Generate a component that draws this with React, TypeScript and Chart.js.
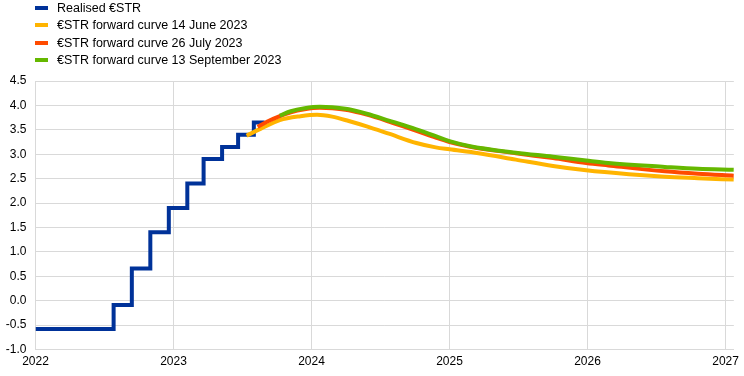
import React, { useEffect, useRef } from "react";
import { Chart, registerables } from "chart.js";

Chart.register(...registerables);

// Realised €STR (step changes, decimal years)
const realisedX = [2022.0, 2022.566, 2022.698, 2022.832, 2022.966, 2023.1, 2023.218, 2023.352, 2023.468, 2023.582, 2023.66];
const realisedY = [-0.58, -0.09, 0.66, 1.4, 1.9, 2.4, 2.9, 3.15, 3.4, 3.65, 3.65];

// €STR forward curve 14 June 2023
const juneX = [2023.53, 2023.63, 2023.77, 2023.92, 2024.04, 2024.15, 2024.27, 2024.4, 2024.56, 2024.76, 2024.9, 2025.0, 2025.21, 2025.48, 2025.75, 2025.99, 2026.3, 2026.56, 2026.8, 2027.06];
const juneY = [3.38, 3.52, 3.7, 3.78, 3.81, 3.77, 3.68, 3.57, 3.42, 3.23, 3.14, 3.1, 3.02, 2.89, 2.76, 2.67, 2.59, 2.54, 2.51, 2.48];

// €STR forward curve 26 July 2023
const julyX = [2023.61, 2023.68, 2023.77, 2023.85, 2023.95, 2024.06, 2024.15, 2024.27, 2024.4, 2024.56, 2024.76, 2024.9, 2025.0, 2025.14, 2025.48, 2025.75, 2025.99, 2026.15, 2026.56, 2026.8, 2027.06];
const julyY = [3.56, 3.67, 3.78, 3.86, 3.92, 3.95, 3.94, 3.9, 3.81, 3.67, 3.48, 3.34, 3.25, 3.16, 3.02, 2.92, 2.82, 2.77, 2.65, 2.6, 2.56];

// €STR forward curve 13 September 2023
const septX = [2023.77, 2023.85, 2023.95, 2024.06, 2024.15, 2024.27, 2024.4, 2024.56, 2024.76, 2024.9, 2025.0, 2025.14, 2025.48, 2025.75, 2025.99, 2026.15, 2026.56, 2026.8, 2027.06];
const septY = [3.79, 3.88, 3.94, 3.97, 3.96, 3.92, 3.83, 3.69, 3.51, 3.37, 3.27, 3.17, 3.03, 2.95, 2.87, 2.82, 2.74, 2.7, 2.68];

const xTicks = [2022, 2023, 2024, 2025, 2026, 2027];
const yMin = -1.0;
const yMax = 4.5;
const xMin = 2022;
const xMax = 2027.06;

const labels = [
  "Realised €STR",
  "€STR forward curve 14 June 2023",
  "€STR forward curve 26 July 2023",
  "€STR forward curve 13 September 2023",
];
const colors = ["#003299", "#ffb400", "#ff4b00", "#65b800"];

const zip = (xs: number[], ys: number[]) => xs.map((x, i) => ({ x, y: ys[i] }));

export default function App() {
  const ref = useRef<HTMLCanvasElement | null>(null);

  useEffect(() => {
    if (!ref.current) return;
    const font = { family: "'Liberation Sans', Arial, sans-serif", size: 12 };
    const chart = new Chart(ref.current, {
      type: "line",
      data: {
        datasets: [
          {
            label: labels[0],
            data: zip(realisedX, realisedY),
            borderColor: colors[0],
            backgroundColor: colors[0],
            borderWidth: 4,
            pointRadius: 0,
            stepped: "before",
            order: 3,
          },
          {
            label: labels[1],
            data: zip(juneX, juneY),
            borderColor: colors[1],
            backgroundColor: colors[1],
            borderWidth: 4,
            pointRadius: 0,
            cubicInterpolationMode: "monotone",
            order: 2,
          },
          {
            label: labels[2],
            data: zip(julyX, julyY),
            borderColor: colors[2],
            backgroundColor: colors[2],
            borderWidth: 4,
            pointRadius: 0,
            cubicInterpolationMode: "monotone",
            order: 1,
          },
          {
            label: labels[3],
            data: zip(septX, septY),
            borderColor: colors[3],
            backgroundColor: colors[3],
            borderWidth: 4,
            pointRadius: 0,
            cubicInterpolationMode: "monotone",
            order: 0,
          },
        ],
      },
      options: {
        animation: false,
        responsive: false,
        maintainAspectRatio: false,
        layout: { padding: { top: 81, right: 8, bottom: 0, left: 0 } },
        plugins: { legend: { display: false }, tooltip: { enabled: false } },
        scales: {
          x: {
            type: "linear",
            min: xMin,
            max: xMax,
            afterBuildTicks: (s: any) => {
              s.ticks = xTicks.map((v) => ({ value: v }));
            },
            afterFit: (s: any) => {
              s.height = 26.5;
            },
            ticks: {
              font,
              color: "#000",
              padding: 5,
              maxRotation: 0,
              callback: (v: any) => String(v),
            },
            grid: { color: "#d9d9d9", lineWidth: 1, drawTicks: false },
            border: { color: "#d9d9d9" },
          },
          y: {
            type: "linear",
            min: yMin,
            max: yMax,
            afterFit: (s: any) => {
              s.width = 35.5;
            },
            ticks: {
              font,
              color: "#000",
              stepSize: 0.5,
              padding: 9,
              callback: (v: any) => Number(v).toFixed(1),
            },
            grid: { color: "#d9d9d9", lineWidth: 1, drawTicks: false },
            border: { color: "#d9d9d9" },
          },
        },
      },
    } as any);
    return () => chart.destroy();
  }, []);

  return (
    <div style={{ position: "fixed", left: 0, top: 0, width: 744, height: 376, background: "#fff" }}>
      <canvas ref={ref} width={744} height={376} style={{ position: "absolute", left: 0, top: 0 }} />
      <div style={{ position: "absolute", left: 0, top: 0, fontFamily: "'Liberation Sans', Arial, sans-serif", fontSize: 12.5, color: "#000" }}>
        {labels.map((l, i) => (
          <div key={l} style={{ position: "absolute", left: 35, top: i * 17.5 - 1, height: 17, whiteSpace: "nowrap", display: "flex", alignItems: "center" }}>
            <span style={{ display: "inline-block", width: 13, height: 4, background: colors[i], marginRight: 9 }} />
            <span>{l}</span>
          </div>
        ))}
      </div>
    </div>
  );
}
